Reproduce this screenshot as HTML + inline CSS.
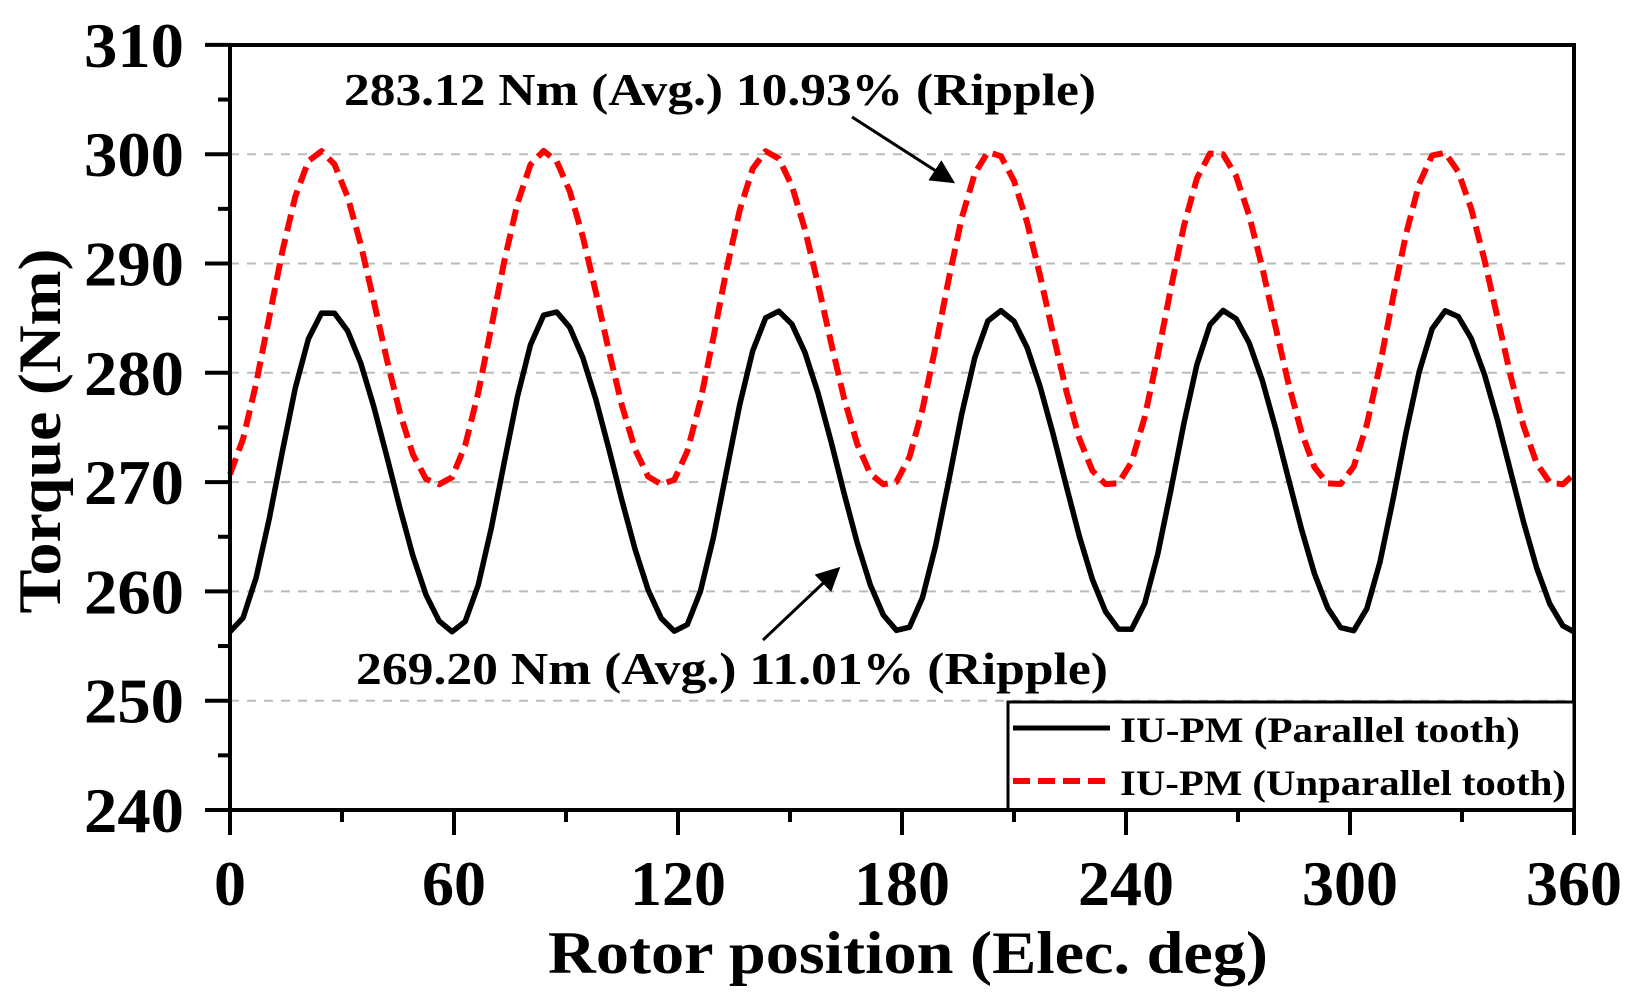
<!DOCTYPE html>
<html><head><meta charset="utf-8"><style>
html,body{margin:0;padding:0;background:#fff}
svg{display:block}
svg text{font-family:"Liberation Serif","Times New Roman",Times,serif;font-weight:bold;fill:#000}
</style></head><body>
<svg id="s" width="1641" height="1003" viewBox="0 0 1641 1003" xmlns="http://www.w3.org/2000/svg" font-family="Liberation Serif, Times New Roman, serif">
<defs><marker id="ah" markerWidth="8" markerHeight="8" refX="6" refY="4" orient="auto" markerUnits="strokeWidth"><path d="M0,0 L8,4 L0,8 z" fill="#000"/></marker></defs>
<g id="grid" stroke="#bbb" stroke-width="2" stroke-dasharray="9,8"></g>
<polyline id="red" fill="none" stroke="#ff0000" stroke-width="6" stroke-dasharray="17,8" stroke-linejoin="round"/>
<polyline id="blk" fill="none" stroke="#000" stroke-width="5.5" stroke-linejoin="round"/>
<g id="ticks" stroke="#000" stroke-width="4"></g>
<rect x="230" y="45" width="1344" height="765" fill="none" stroke="#000" stroke-width="4"/>
<g id="lab"></g>
<text x="344" y="105" font-size="46" textLength="752" lengthAdjust="spacingAndGlyphs">283.12 Nm (Avg.) 10.93% (Ripple)</text>
<line x1="852" y1="117" x2="950" y2="180" stroke="#000" stroke-width="3" marker-end="url(#ah)"/>
<text x="356" y="684" font-size="46" textLength="752" lengthAdjust="spacingAndGlyphs">269.20 Nm (Avg.) 11.01% (Ripple)</text>
<line x1="763" y1="640" x2="836" y2="571" stroke="#000" stroke-width="3" marker-end="url(#ah)"/>
<rect x="1008" y="702" width="566" height="108" fill="#fff" stroke="#000" stroke-width="3"/>
<line x1="1013" y1="728" x2="1110" y2="728" stroke="#000" stroke-width="5"/>
<line x1="1013" y1="781" x2="1110" y2="781" stroke="#f00" stroke-width="6" stroke-dasharray="17,8"/>
<text x="1120" y="742" font-size="36" textLength="400" lengthAdjust="spacingAndGlyphs">IU-PM (Parallel tooth)</text>
<text x="1120" y="795" font-size="36" textLength="446" lengthAdjust="spacingAndGlyphs">IU-PM (Unparallel tooth)</text>
<line x1="230" y1="810" x2="1574" y2="810" stroke="#000" stroke-width="4"/>
<text x="908" y="973" font-size="60" text-anchor="middle" textLength="720" lengthAdjust="spacingAndGlyphs">Rotor position (Elec. deg)</text>
<text transform="translate(60,431) rotate(-90)" font-size="60" text-anchor="middle" textLength="365" lengthAdjust="spacingAndGlyphs">Torque (Nm)</text>
</svg>
<script>
var X0=230,X1=1574,Y0=810,K=10.93;
function X(t){return X0+(X1-X0)*t/360}
function Y(v){return Y0-(v-240)*K}
var g=document.getElementById('grid'),tk=document.getElementById('ticks'),lab=document.getElementById('lab'),ns='http://www.w3.org/2000/svg';
function el(p,n,a,txt){var e=document.createElementNS(ns,n);for(var k in a)e.setAttribute(k,a[k]);if(txt)e.textContent=txt;p.appendChild(e);return e}
for(var v=250;v<=300;v+=10)el(g,'line',{x1:X0,x2:X1,y1:Y(v),y2:Y(v)});
for(var v=240;v<=310;v+=5){var mj=v%10==0;el(tk,'line',{x1:mj?205:218,x2:X0,y1:Y(v),y2:Y(v)});
 if(mj)el(lab,'text',{x:184,y:Y(v)+22,'font-size':64,'text-anchor':'end',textLength:100,lengthAdjust:'spacingAndGlyphs'},String(v));}
for(var t=0;t<=360;t+=30){var mj=t%60==0;el(tk,'line',{x1:X(t),x2:X(t),y1:Y0,y2:mj?835:822});
 if(mj){var s=String(t);el(lab,'text',{x:X(t),y:905,'font-size':64,'text-anchor':'middle',textLength:s.length*32,lengthAdjust:'spacingAndGlyphs'},s);}}
function blk(t){var u=t%60,mn=256.3,A=29.4;
 if(u<26)return mn+A*(1-Math.cos(Math.PI*u/26))/2;return mn+A*(1+Math.cos(Math.PI*(u-26)/34))/2}
function red(t){var u=(t+3)%60,mn=269.8,A=30.5;
 if(u<27)return mn+A*(1-Math.cos(Math.PI*u/27))/2;if(u<58)return mn+A*(1+Math.cos(Math.PI*(u-27)/31))/2;return mn}
var pb=[],pr=[];for(var t=0;t<=360;t+=3.5){var tt=Math.min(t,360);pb.push(X(tt).toFixed(1)+','+Y(blk(tt)).toFixed(1));pr.push(X(tt).toFixed(1)+','+Y(red(tt)).toFixed(1));}
pb.push(X(360)+','+Y(blk(360)).toFixed(1));pr.push(X(360)+','+Y(red(360)).toFixed(1));
document.getElementById('blk').setAttribute('points',pb.join(' '));
document.getElementById('red').setAttribute('points',pr.join(' '));
</script>
</body></html>
